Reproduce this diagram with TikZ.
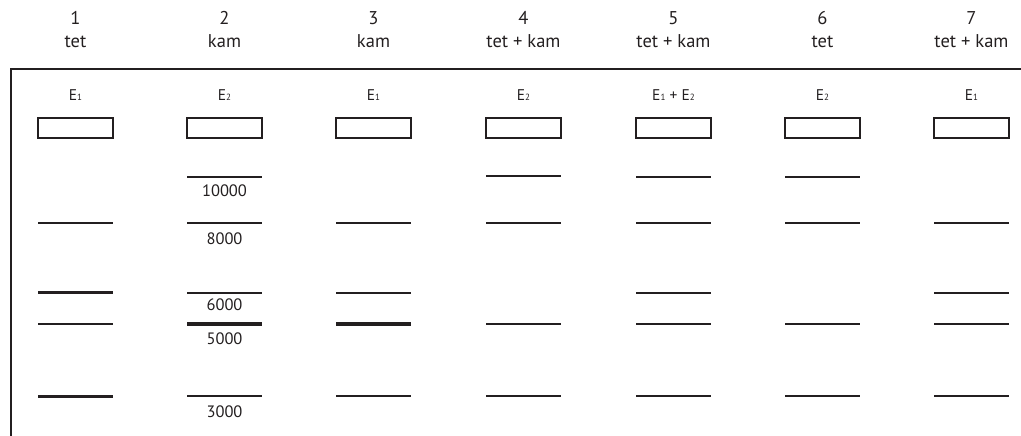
\documentclass[tikz,border=0pt]{standalone}
\usepackage{fontspec}
\setmainfont{PT Sans}
\definecolor{ink}{RGB}{35,31,32}
\newcommand\esub[1]{{\fontsize{9}{9}\selectfont #1}}
\begin{document}
\begin{tikzpicture}[x=1pt,y=-1pt,
  hdr/.style={font=\fontsize{18.5}{18.5}\selectfont, text=ink, anchor=base, inner sep=0},
  enz/.style={font=\fontsize{15.5}{15.5}\selectfont, text=ink, anchor=base, inner sep=0},
  lbl/.style={font=\fontsize{16.5}{16.5}\selectfont, text=ink, anchor=base, inner sep=0},
  wellbox/.style={draw=ink, line width=1.5pt, minimum width=75pt, minimum height=20pt, inner sep=0},
  band/.style={fill=ink, inner sep=0, minimum width=75pt, minimum height=2pt},
  thickband/.style={band, minimum height=3.6pt},
  frameline/.style={draw=ink, line width=1.4pt}]
\useasboundingbox (0,0) rectangle (1021,436);
% frame
\coordinate (fr) at (1021,69);
\coordinate (fb) at (11,436);
\draw[frameline] (fr) -| (fb);
% headers
\foreach \i/\x/\name/\e in {1/75.5/tet/E\esub{1}, 2/224.5/kam/E\esub{2}, 3/373.5/kam/E\esub{1},
  4/523.5/tet + kam/E\esub{2}, 5/673.5/tet + kam/E\esub{1} + E\esub{2}, 6/822.5/tet/E\esub{2},
  7/971.5/tet + kam/E\esub{1}} {
  \node[hdr] (num\i) at (\x,24.3) {\i};
  \node[hdr] (name\i) at (\x,47.5) {\name};
  \node[enz] (enz\i) at (\x,100) {\e};
  \node[wellbox] (well\i) at (\x,128) {};
}
% bands
\foreach \i/\x/\y/\s in {
  1/75.5/222.7/band, 1/75.5/292.5/thickband, 1/75.5/324/band, 1/75.5/396.5/thickband,
  2/224.5/176.7/band, 2/224.5/222.7/band, 2/224.5/292.7/band, 2/224.5/324/thickband, 2/224.5/396.3/band,
  3/373.5/222.7/band, 3/373.5/292.7/band, 3/373.5/324/thickband, 3/373.5/396.3/band,
  4/523.5/175.5/band, 4/523.5/222.7/band, 4/523.5/324/band, 4/523.5/396.3/band,
  5/673.5/176.7/band, 5/673.5/222.7/band, 5/673.5/292.7/band, 5/673.5/324/band, 5/673.5/396.3/band,
  6/822.5/176.7/band, 6/822.5/222.7/band, 6/822.5/324/band, 6/822.5/396.3/band,
  7/971.5/222.7/band, 7/971.5/292.7/band, 7/971.5/324/band, 7/971.5/396.3/band} {
  \node[\s] (b\i-\y) at (\x,\y) {};
}
% size labels
\node[lbl] (s10000) at (224.5,196) {10000};
\node[lbl] (s8000) at (224.5,244.3) {8000};
\node[lbl] (s6000) at (224.5,310.7) {6000};
\node[lbl] (s5000) at (224.5,344) {5000};
\node[lbl] (s3000) at (224.5,417.3) {3000};
\end{tikzpicture}
\end{document}
